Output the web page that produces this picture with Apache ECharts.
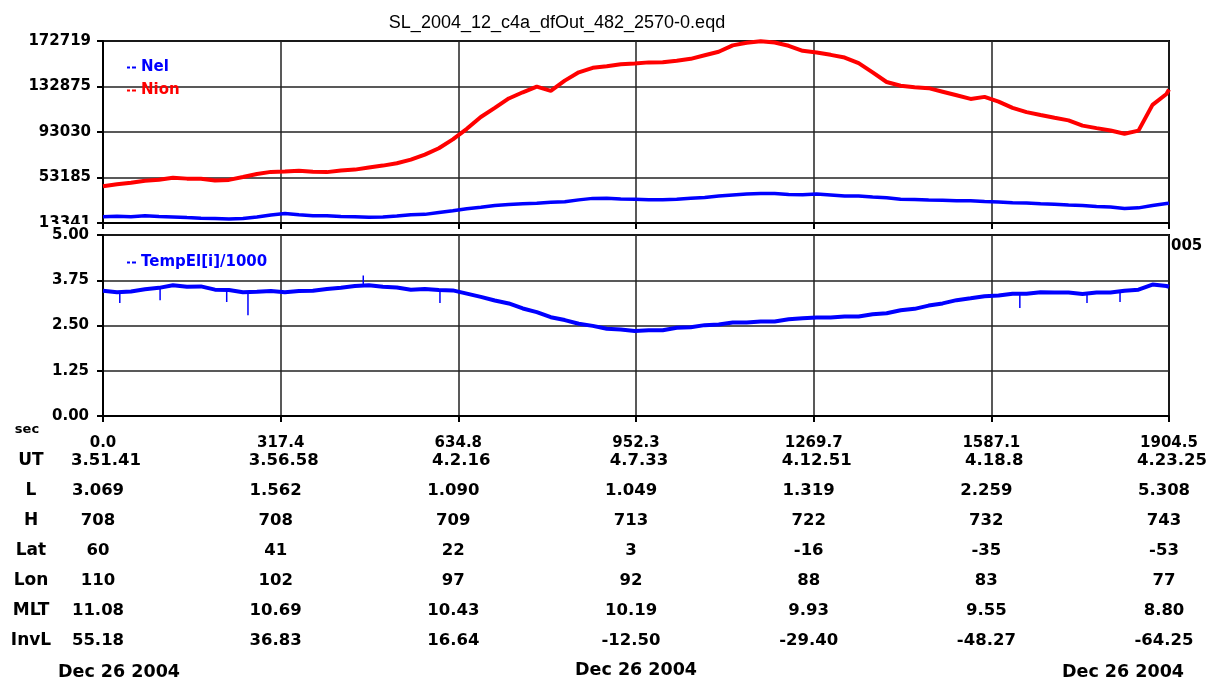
<!DOCTYPE html>
<html><head><meta charset="utf-8">
<script src="https://cdn.jsdelivr.net/npm/echarts@6/dist/echarts.min.js"></script>
<style>html,body{margin:0;padding:0;background:#fff}#c{width:1228px;height:679px}</style>
</head><body><div id="c"></div>
<script>
const titleText = 'SL_2004_12_c4a_dfOut_482_2570-0.eqd';
const timeSec = [0,25,50,75,100,125,150,175,200,225,
  250,275,300,325,350,375,400,425,450,475,
  500,525,550,575,600,625,650,675,700,725,
  750,775,800,825,850,875,900,925,950,975,
  1000,1025,1050,1075,1100,1125,1150,1175,1200,1225,
  1250,1275,1300,1325,1350,1375,1400,1425,1450,1475,
  1500,1525,1550,1575,1600,1625,1650,1675,1700,1725,
  1750,1775,1800,1825,1850,1875,1900,1904.5];
const nion = [45500,47200,48600,50400,51300,52900,52200,52000,50500,51100,
  53600,56200,58100,58400,59100,58200,57900,59400,60100,62000,
  63600,65700,68800,73200,78800,86600,95800,106200,114100,122400,
  127800,132700,129100,138000,145300,149200,150600,152300,153100,154000,
  154200,155500,157100,160200,163300,168900,171200,172500,171400,168500,
  164100,162700,160600,158200,153300,145200,136800,133500,132300,131400,
  128300,125200,122000,123800,119600,114200,110400,107900,105500,103200,
  98600,96400,94300,91500,94200,116800,126300,130200];
const nel = [18800,19300,18900,19600,19100,18700,18100,17600,17300,16900,
  17300,18600,20400,21600,20600,19700,19600,19100,18900,18400,
  18600,19400,20600,20900,22600,24100,25900,27200,28700,29500,
  30300,30700,31600,31900,33600,34900,35100,34400,34200,33700,
  33700,34200,35100,35700,36900,37800,38700,39200,39100,38400,
  38100,38700,37900,36900,36900,36100,35400,34100,33900,33400,
  33300,32900,32800,32200,31800,31100,30900,30200,29800,29000,
  28700,27700,27300,26100,26600,28700,30400,30700];
const tempEl = [3.46,3.42,3.44,3.50,3.54,3.61,3.57,3.58,3.49,3.48,
  3.42,3.43,3.45,3.42,3.45,3.46,3.51,3.54,3.59,3.61,
  3.57,3.55,3.49,3.51,3.48,3.47,3.38,3.29,3.19,3.11,
  2.97,2.87,2.73,2.65,2.55,2.49,2.41,2.39,2.35,2.37,
  2.37,2.44,2.45,2.51,2.53,2.58,2.58,2.61,2.61,2.67,
  2.70,2.72,2.72,2.75,2.75,2.81,2.84,2.92,2.96,3.05,
  3.11,3.20,3.25,3.31,3.33,3.38,3.38,3.42,3.41,3.41,
  3.37,3.41,3.41,3.46,3.49,3.63,3.59,3.57];
// [time, base, tip]
const tempSpikes = [[30,3.43,3.12],[102,3.55,3.20],[221,3.48,3.15],[259,3.42,2.78],[465,3.60,3.88],
  [602,3.48,3.12],[1638,3.38,2.98],[1758,3.38,3.12],[1817,3.43,3.15]];
const topTicks = [13341,53185,93030,132875,172719];
const xTickLabels = ['0.0','317.4','634.8','952.3','1269.7','1587.1','1904.5'];
const rowNames = ['UT','L','H','Lat','Lon','MLT','InvL'];
const rowUT = ['3.51.41','3.56.58','4.2.16','4.7.33','4.12.51','4.18.8','4.23.25'];
const rowL = ['3.069','1.562','1.090','1.049','1.319','2.259','5.308'];
const rowH = ['708','708','709','713','722','732','743'];
const rowLat = ['60','41','22','3','-16','-35','-53'];
const rowLon = ['110','102','97','92','88','83','77'];
const rowMLT = ['11.08','10.69','10.43','10.19','9.93','9.55','8.80'];
const rowInvL = ['55.18','36.83','16.64','-12.50','-29.40','-48.27','-64.25'];
const dateLabel = 'Dec 26 2004';

const XMAX = 1904.5, XI = XMAX / 6;
const FF = '"DejaVu Sans", sans-serif';
const BLUE = '#0000ff', RED = '#ff0000';
const pair = arr => timeSec.map((t, i) => [t, arr[i]]);
const spikeData = [];
tempSpikes.forEach(s => { spikeData.push([s[0], s[1]], [s[0], s[2]], [s[0], '-']); });

const axisLineStyle = { show: true, lineStyle: { color: '#000', width: 2 } };
const splitStyle = { show: true, lineStyle: { color: '#222', width: 1.5 } };
const tickStyle = { show: true, inside: false, length: 6, lineStyle: { color: '#000', width: 2 } };
const labStyle = { color: '#000', fontFamily: FF, fontWeight: 'bold', fontSize: 15 };

const chart = echarts.init(document.getElementById('c'), null, { renderer: 'canvas' });
const option = {
  animation: false,
  backgroundColor: '#fff',
  title: { text: titleText, left: 552, top: 9, textAlign: 'center',
    textStyle: { fontFamily: '"Liberation Sans", Arial, sans-serif', fontWeight: 'normal', fontSize: 18, color: '#000' } },
  grid: [
    { left: 103, right: 59, top: 41, height: 182, show: true, borderColor: '#000', borderWidth: 2, backgroundColor: 'transparent' },
    { left: 103, right: 59, top: 235, height: 181, show: true, borderColor: '#000', borderWidth: 2, backgroundColor: 'transparent' }
  ],
  legend: [
    { data: [{ name: 'Nel', textStyle: { color: BLUE } }, { name: 'Nion', textStyle: { color: RED } }],
      left: 122, top: 55, orient: 'vertical', itemWidth: 9, itemHeight: 3, itemGap: 8, selectedMode: false,
      icon: 'path://M0,0H3V2H0Z M5,0H9V2H5Z',
      textStyle: { fontFamily: FF, fontWeight: 'bold', fontSize: 15 } },
    { data: [{ name: 'TempEl[i]/1000', textStyle: { color: BLUE } }],
      left: 122, top: 250, orient: 'vertical', itemWidth: 9, itemHeight: 3, selectedMode: false,
      icon: 'path://M0,0H3V2H0Z M5,0H9V2H5Z',
      textStyle: { fontFamily: FF, fontWeight: 'bold', fontSize: 15 } }
  ],
  xAxis: [
    { type: 'value', gridIndex: 0, min: 0, max: XMAX, interval: XI,
      axisLine: axisLineStyle, axisTick: tickStyle, splitLine: splitStyle, axisLabel: { show: false } },
    { type: 'value', gridIndex: 1, min: 0, max: XMAX, interval: XI,
      axisLine: axisLineStyle, axisTick: tickStyle, splitLine: splitStyle,
      axisLabel: Object.assign({ margin: 20, showMinLabel: true, showMaxLabel: true,
        formatter: v => xTickLabels[Math.round(v / XI)] || '' }, labStyle) }
  ],
  yAxis: [
    { type: 'value', gridIndex: 0, min: topTicks[0], max: topTicks[topTicks.length - 1],
      axisLine: axisLineStyle,
      axisTick: Object.assign({ customValues: topTicks }, tickStyle),
      splitLine: splitStyle,
      axisLabel: Object.assign({ margin: 12, customValues: topTicks, formatter: v => String(Math.round(v)) }, labStyle) },
    { type: 'value', gridIndex: 1, min: 0, max: 5, interval: 1.25,
      axisLine: axisLineStyle, axisTick: tickStyle, splitLine: splitStyle,
      axisLabel: Object.assign({ margin: 12, formatter: v => v.toFixed(2), backgroundColor: '#fff', padding: [7, 2, 0, 2] }, labStyle) }
  ],
  series: [
    { name: 'Nel', type: 'line', xAxisIndex: 0, yAxisIndex: 0, data: pair(nel), showSymbol: false,
      lineStyle: { color: BLUE, width: 3.5 }, itemStyle: { color: BLUE }, clip: true },
    { name: 'Nion', type: 'line', xAxisIndex: 0, yAxisIndex: 0, data: pair(nion), showSymbol: false,
      lineStyle: { color: RED, width: 4 }, itemStyle: { color: RED }, clip: true },
    { name: 'TempEl[i]/1000', type: 'line', xAxisIndex: 1, yAxisIndex: 1, data: pair(tempEl), showSymbol: false,
      lineStyle: { color: BLUE, width: 4 }, itemStyle: { color: BLUE }, clip: true },
    { name: 'TempEl spikes', type: 'line', xAxisIndex: 1, yAxisIndex: 1, data: spikeData, showSymbol: false,
      connectNulls: false, lineStyle: { color: BLUE, width: 1.5 }, itemStyle: { color: BLUE } }
  ]
};
chart.setOption(option);

// Ephemeris table under the x axis, positioned from the axis scale
const rows = [rowUT, rowL, rowH, rowLat, rowLon, rowMLT, rowInvL];
const y0 = chart.convertToPixel({ yAxisIndex: 1 }, 0);
const gfx = [];
const txt = (text, x, y, size, align, weight) => ({
  type: 'text', x: x, y: y, silent: true,
  style: { text: text, fill: '#000', font: (weight || 'bold') + ' ' + size + 'px ' + FF,
    textAlign: align || 'center', textVerticalAlign: 'middle' }
});
gfx.push(txt('sec', 27, y0 + 14, 13));
rows.forEach((row, r) => {
  const yy = y0 + 45 + r * 30;
  gfx.push(txt(rowNames[r], 31, yy, 17));
  row.forEach((val, c) => {
    const xx = chart.convertToPixel({ xAxisIndex: 1 }, parseFloat(xTickLabels[c]));
    gfx.push(txt(val, xx + (r === 0 ? 3 : -5), yy, 16.5));
  });
});
const xFirst = chart.convertToPixel({ xAxisIndex: 1 }, parseFloat(xTickLabels[0]));
const xMid = chart.convertToPixel({ xAxisIndex: 1 }, parseFloat(xTickLabels[3]));
const xLast = chart.convertToPixel({ xAxisIndex: 1 }, parseFloat(xTickLabels[6]));
gfx.push(txt(dateLabel, xFirst - 45, y0 + 256, 17.5, 'left'));
gfx.push(txt(dateLabel, xMid, y0 + 254, 17.5, 'center'));
gfx.push(txt(dateLabel, xLast + 15, y0 + 256, 17.5, 'right'));
const yTop2 = chart.convertToPixel({ yAxisIndex: 1 }, 5);
gfx.push(txt('005', xLast + 2, yTop2 + 11, 15, 'left'));
chart.setOption({ graphic: { elements: gfx } });
</script></body></html>
